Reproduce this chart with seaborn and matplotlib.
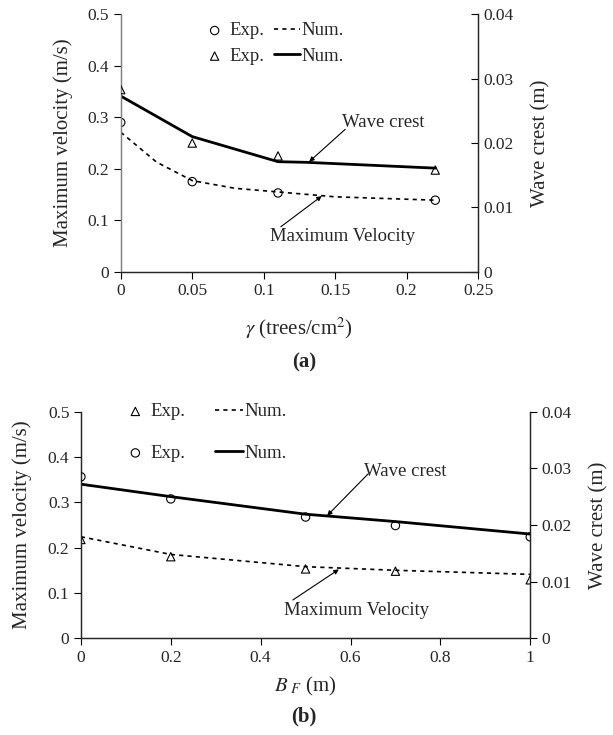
import numpy as np
import pandas as pd
import seaborn as sns
import matplotlib.pyplot as plt
from matplotlib.ticker import FuncFormatter, MultipleLocator

# ---- panel (a): tree density ----
gamma_exp = [0, 0.05, 0.11, 0.22]
vel_exp_a = [0.290, 0.175, 0.153, 0.139]
crest_exp_a = [0.0283, 0.0200, 0.0180, 0.0158]

gamma_vel_num = [0, 0.025, 0.05, 0.08, 0.11, 0.15, 0.22]
vel_num_a = [0.271, 0.213, 0.177, 0.162, 0.155, 0.1455, 0.139]

gamma_crest_num = [0, 0.05, 0.11, 0.13, 0.22]
crest_num_a = [0.0273, 0.0210, 0.0171, 0.0170, 0.0161]

# ---- panel (b): forest width ----
bf_vals = [0, 0.2, 0.5, 0.7, 1.0]
vel_exp_b = [0.218, 0.180, 0.153, 0.148, 0.129]
vel_num_b = [0.224, 0.185, 0.158, 0.150, 0.141]
crest_exp_b = [0.0285, 0.0246, 0.0214, 0.0199, 0.0179]
crest_num_b = [0.0272, 0.0250, 0.0219, 0.0206, 0.0184]

sns.set_style("ticks")
plt.rcParams['font.family'] = ['Liberation Serif', 'DejaVu Serif']
plt.rcParams['mathtext.fontset'] = 'stix'

fmt = FuncFormatter(lambda v, p: f'{v:g}')
TICK = 12.5
LAB = 15
ANN = 13.5


def draw_panel(ax, x_exp, v_exp, c_exp, x_vnum, v_num, x_cnum, c_num,
               vel_marker, crest_marker, xmax, xstep):
    ax2 = ax.twinx()

    sns.lineplot(x=x_vnum, y=v_num, ax=ax, color='black', linestyle=(0, (2.5, 2.5)),
                 linewidth=1.2, label='Num.')
    sns.scatterplot(x=x_exp, y=v_exp, ax=ax, marker=vel_marker, s=36,
                    facecolors='none', edgecolor='black', linewidth=0.8, label='Exp.', zorder=5)
    sns.lineplot(x=x_cnum, y=c_num, ax=ax2, color='black', linewidth=2.0, label='Num.')
    sns.scatterplot(x=x_exp, y=c_exp, ax=ax2, marker=crest_marker, s=36,
                    facecolors='none', edgecolor='black', linewidth=0.8, label='Exp.', zorder=5)

    h1, _ = ax.get_legend_handles_labels()
    h2, _ = ax2.get_legend_handles_labels()
    for a in (ax, ax2):
        if a.get_legend() is not None:
            a.get_legend().remove()

    ax.set_xlim(0, xmax)
    ax.set_ylim(0, 0.5)
    ax2.set_ylim(0, 0.04)
    ax.xaxis.set_major_locator(MultipleLocator(xstep))
    ax.yaxis.set_major_locator(MultipleLocator(0.1))
    ax2.yaxis.set_major_locator(MultipleLocator(0.01))
    for a in (ax.xaxis, ax.yaxis, ax2.yaxis):
        a.set_major_formatter(fmt)

    ax.tick_params(labelsize=TICK, length=4.8, width=0.8, color='black')
    ax2.tick_params(labelsize=TICK, length=4.8, width=0.8, color='black')
    ax.spines['top'].set_visible(False)
    ax2.spines['top'].set_visible(False)
    for s in ax.spines.values():
        s.set_linewidth(0.9)
    for s in ax2.spines.values():
        s.set_linewidth(0.9)
    ax.set_ylabel('Maximum velocity (m/s)', fontsize=LAB)
    ax2.set_ylabel('Wave crest (m)', fontsize=LAB)
    return ax2, h1, h2


fig = plt.figure(figsize=(6.13, 7.35), dpi=100)

# ---------------- (a) ----------------
axa = fig.add_axes([0.197, 0.6303, 0.583, 0.3502])
axa2, h1, h2 = draw_panel(axa, gamma_exp, vel_exp_a, crest_exp_a,
                          gamma_vel_num, vel_num_a, gamma_crest_num, crest_num_a,
                          'o', '^', 0.25, 0.05)
axa.spines['left'].set_color('#808080')
axa2.spines['left'].set_color('#808080')
axa2.tick_params(axis='y', direction='in')
axa.set_xlabel(r'$\gamma$ (trees/cm$^2$)', fontsize=LAB)
axa.xaxis.set_label_coords(0.5, -0.172)
axa.yaxis.set_label_coords(-0.134, 0.5)
axa2.yaxis.set_label_coords(1.148, 0.5)

# handles: [vel exp, crest exp, vel num, crest num]
axa2.legend([h1[1], h2[1], h1[0], h2[0]], ['Exp.', 'Exp.', 'Num.', 'Num.'],
            ncol=2, frameon=False, fontsize=ANN, loc='center',
            bbox_to_anchor=(0.426, 0.886), handlelength=1.35, handletextpad=0.1,
            columnspacing=0.55, labelspacing=0.45, borderpad=0.2)

axa.text(0.1545, 0.289, 'Wave crest', fontsize=ANN, ha='left', va='center')
axa.annotate('', xy=(0.1318, 0.2137), xytext=(0.157, 0.2766),
             arrowprops=dict(arrowstyle='-|>', color='black', lw=0.8,
                             mutation_scale=7, shrinkA=0, shrinkB=0))
axa.text(0.1045, 0.0694, 'Maximum Velocity', fontsize=ANN, ha='left', va='center')
axa.annotate('', xy=(0.1406, 0.147), xytext=(0.112, 0.0874),
             arrowprops=dict(arrowstyle='-|>', color='black', lw=0.8,
                             mutation_scale=7, shrinkA=0, shrinkB=0))
fig.text(0.497, 0.5075, '(a)', fontsize=LAB, fontweight='bold', ha='center', va='center')

# ---------------- (b) ----------------
axb = fig.add_axes([0.132, 0.1316, 0.733, 0.3083])
axb2, g1, g2 = draw_panel(axb, bf_vals, vel_exp_b, crest_exp_b,
                          bf_vals, vel_num_b, bf_vals, crest_num_b,
                          '^', 'o', 1.0, 0.2)
axb.set_xlabel(r'$B_{\ F}$ (m)', fontsize=LAB)
axb.xaxis.set_label_coords(0.5, -0.163)
axb.yaxis.set_label_coords(-0.109, 0.5)
axb2.yaxis.set_label_coords(1.131, 0.5)

axb2.legend([g1[1], g2[1], g1[0], g2[0]], ['Exp.', 'Exp.', 'Num.', 'Num.'],
            ncol=2, frameon=False, fontsize=ANN, loc='center',
            bbox_to_anchor=(0.274, 0.908), handlelength=1.5, handletextpad=0.05,
            columnspacing=1.6, labelspacing=1.3, borderpad=0.2)

axb.text(0.630, 0.3676, 'Wave crest', fontsize=ANN, ha='left', va='center')
axb.annotate('', xy=(0.548, 0.2705), xytext=(0.639, 0.3625),
             arrowprops=dict(arrowstyle='-|>', color='black', lw=0.8,
                             mutation_scale=7, shrinkA=0, shrinkB=0))
axb.text(0.452, 0.061, 'Maximum Velocity', fontsize=ANN, ha='left', va='center')
axb.annotate('', xy=(0.574, 0.152), xytext=(0.4717, 0.0845),
             arrowprops=dict(arrowstyle='-|>', color='black', lw=0.8,
                             mutation_scale=7, shrinkA=0, shrinkB=0))
fig.text(0.495, 0.0249, '(b)', fontsize=LAB, fontweight='bold', ha='center', va='center')

fig.savefig('out.png', dpi=100)
